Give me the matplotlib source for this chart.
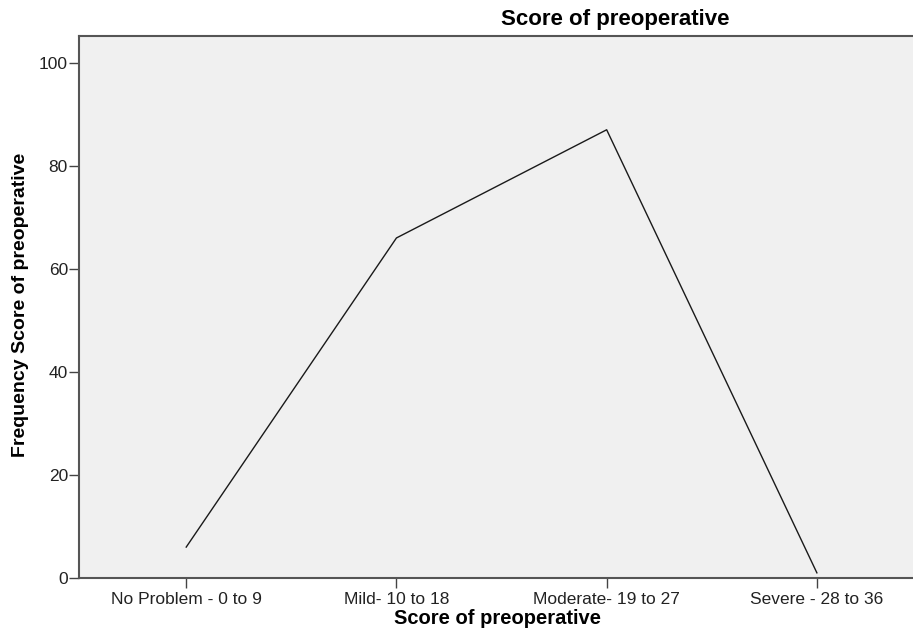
import matplotlib
matplotlib.use("Agg")
import matplotlib.pyplot as plt

categories = ["No Problem - 0 to 9", "Mild- 10 to 18", "Moderate- 19 to 27", "Severe - 28 to 36"]
frequency = [6, 66, 87, 1]
y_ticks = [0, 20, 40, 60, 80, 100]

plt.rcParams['font.family'] = ['Liberation Sans', 'DejaVu Sans']

fig = plt.figure(figsize=(9.13, 6.37), dpi=100)
fig.patch.set_facecolor('white')
W, H = 913, 637
left, right, top, bottom = 79, 922, 36, 578
ax = fig.add_axes([left / W, (H - bottom) / H, (right - left) / W, (bottom - top) / H])
ax.set_facecolor('#f0f0f0')

x = list(range(len(categories)))
ax.plot(x, frequency, color='#1a1a1a', linewidth=1.0)

ax.set_xlim(-0.51, 3.5)
ax.set_ylim(0, 105.2)
ax.set_xticks(x)
ax.set_xticklabels(categories, fontsize=12.5, color='#222222')
ax.set_yticks(y_ticks)
ax.set_yticklabels([str(v) for v in y_ticks], fontsize=12.5, color='#222222')
ax.tick_params(axis='x', length=7, width=1, color='#444444', pad=3)
ax.tick_params(axis='y', length=7, width=1, color='#444444', pad=1)

for s in ['left', 'bottom', 'top']:
    ax.spines[s].set_color('#555555')
    ax.spines[s].set_linewidth(1.5)
ax.spines['right'].set_visible(False)

fig.text(497 / W, 1 - 619 / H, "Score of preoperative", fontsize=14.5, fontweight='bold',
         ha='center', va='center')
fig.text(21 / W, 1 - 305 / H, "Frequency Score of preoperative", rotation=90,
         fontsize=14, fontweight='bold', ha='center', va='center')
fig.text(615 / W, 1 - 19 / H, "Score of preoperative", fontsize=16, fontweight='bold',
         ha='center', va='center')

fig.savefig("out.png", dpi=100)
